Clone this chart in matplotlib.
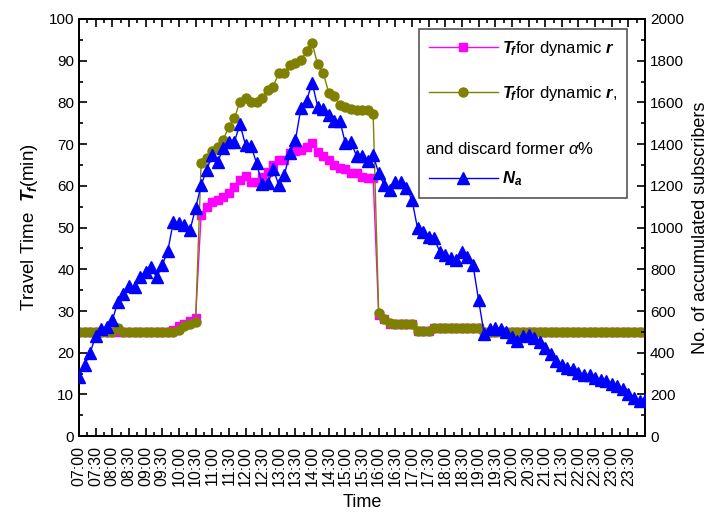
import matplotlib
matplotlib.use("Agg")
import matplotlib.pyplot as plt
from matplotlib.lines import Line2D
from matplotlib.ticker import MultipleLocator
import numpy as np

plt.rcParams['font.family'] = ['Liberation Sans', 'DejaVu Sans']
plt.rcParams['mathtext.fontset'] = 'custom'
plt.rcParams['mathtext.it'] = 'Liberation Sans:italic'
plt.rcParams['mathtext.bf'] = 'Liberation Sans:bold'
plt.rcParams['mathtext.bfit'] = 'Liberation Sans:bold:italic'
plt.rcParams['mathtext.rm'] = 'Liberation Sans'

# time index: 10-minute steps from 07:00 to 24:00
time_labels = ["07:00", "07:30", "08:00", "08:30", "09:00", "09:30", "10:00", "10:30",
               "11:00", "11:30", "12:00", "12:30", "13:00", "13:30", "14:00", "14:30",
               "15:00", "15:30", "16:00", "16:30", "17:00", "17:30", "18:00", "18:30",
               "19:00", "19:30", "20:00", "20:30", "21:00", "21:30", "22:00", "22:30",
               "23:00", "23:30"]

tf_dynamic_r = [25, 25, 25, 25, 25, 25, 25, 25, 25, 25,
                25, 25, 25, 25, 25, 25, 25, 25.5, 26.5, 27.0,
                27.5, 28.3, 53.0, 55.0, 56.2, 56.6, 57.4, 58.4, 59.8, 61.4,
                62.4, 61.0, 61.0, 62.2, 63.4, 65.0, 66.2, 66.3, 67.8, 68.4,
                68.6, 69.4, 70.2, 68.2, 67.1, 66.2, 65.0, 64.2, 64.0, 63.1,
                63.0, 62.2, 62.0, 62.0, 29.0, 28.0, 27.0, 27, 27, 27,
                27, 25.2, 25.2, 25.2, 26, 26, 26, 26, 26, 26,
                26, 26, 26, 25, 25, 25, 25, 25, 25, 25,
                25, 25, 25, 25, 25, 25, 25, 25, 25, 25,
                25, 25, 25, 25, 25, 25, 25, 25, 25, 25,
                25, 25, 25]

tf_dynamic_r_discard = [25, 25, 25, 25, 25, 25, 25, 26, 25, 25,
                        25, 25, 25, 25, 25, 25, 25, 25, 25.5, 26.3,
                        27.0, 27.3, 65.4, 66.6, 68.4, 69.4, 71.1, 74.2, 76.2, 80.2,
                        81.0, 80.2, 80.2, 81.0, 83.0, 83.8, 87.1, 87.1, 89.0, 89.4,
                        90.2, 92.2, 94.2, 89.1, 87.1, 82.3, 81.5, 79.4, 78.8, 78.4,
                        78.2, 78.2, 78.2, 77.2, 29.5, 28.2, 27.2, 27, 27, 27,
                        27, 25.2, 25.2, 25.2, 26, 26, 26, 26, 26, 26,
                        26, 26, 26, 25, 25, 25, 25, 25, 25, 25,
                        25, 25, 25, 25, 25, 25, 25, 25, 25, 25,
                        25, 25, 25, 25, 25, 25, 25, 25, 25, 25,
                        25, 25, 25]

n_subscribers = [284, 340, 400, 480, 516, 524, 556, 644, 684, 720,
                 713, 764, 788, 809, 761, 820, 889, 1028, 1023, 1012,
                 988, 1092, 1204, 1276, 1348, 1316, 1380, 1412, 1412, 1495,
                 1396, 1391, 1308, 1207, 1212, 1279, 1204, 1252, 1359, 1420,
                 1575, 1607, 1695, 1580, 1568, 1540, 1512, 1512, 1404, 1412,
                 1343, 1343, 1320, 1348, 1260, 1204, 1180, 1220, 1220, 1190,
                 1132, 996, 980, 956, 948, 884, 868, 852, 844, 884,
                 860, 820, 652, 492, 512, 520, 512, 500, 476, 456,
                 480, 484, 472, 452, 424, 396, 360, 340, 328, 324,
                 304, 292, 292, 280, 268, 264, 252, 240, 224, 204,
                 184, 168, 172]

x = np.arange(len(n_subscribers))

fig = plt.figure(figsize=(7.12, 5.12), dpi=100)
ax = fig.add_axes([0.111, 0.148, 0.795, 0.815])
ax2 = ax.twinx()

l1, = ax.plot(x, tf_dynamic_r, color='#FF00FF', lw=1, marker='s', ms=6, mec='#FF00FF', zorder=2)
l2, = ax.plot(x, tf_dynamic_r_discard, color='#808000', lw=1, marker='o', ms=6.5, mec='#808000', zorder=3)
l3, = ax2.plot(x, n_subscribers, color='#0000FF', lw=1, marker='^', ms=8, mec='#0000FF', zorder=4)

ax.set_xlim(0, len(x) - 1)
ax.set_ylim(0, 100)
ax2.set_ylim(0, 2000)

ax.set_xticks(np.arange(0, len(time_labels) * 3, 3))
ax.set_xticklabels(time_labels, rotation=90)
ax.xaxis.set_minor_locator(MultipleLocator(1.5))
ax.yaxis.set_major_locator(MultipleLocator(10))
ax.yaxis.set_minor_locator(MultipleLocator(5))
ax2.yaxis.set_major_locator(MultipleLocator(200))
ax2.yaxis.set_minor_locator(MultipleLocator(100))

ax.tick_params(axis='both', which='major', direction='in', length=6, width=1.2, labelsize=11)
ax.tick_params(axis='both', which='minor', direction='in', length=3, width=1.2)
ax.tick_params(axis='x', which='both', top=True, labelsize=11.5, pad=7)
ax.tick_params(axis='y', which='both', right=False)
ax2.tick_params(axis='y', which='major', direction='in', length=6, width=1.2, labelsize=11)
ax2.tick_params(axis='y', which='minor', direction='in', length=3, width=1.2)
for a in (ax, ax2):
    for s in a.spines.values():
        s.set_linewidth(1.3)

ax.set_xlabel("Time", fontsize=13)
ax.xaxis.set_label_coords(0.5, -0.138)
ax.xaxis.label.set_va('top')
ax.set_ylabel(r"Travel Time  $\mathbfit{T}_{\!\mathbfit{f}}$(min)", fontsize=13.5, labelpad=6)
ax2.set_ylabel("No. of accumulated subscribers", fontsize=13, labelpad=6)

blank = Line2D([], [], linestyle='none')
leg = ax2.legend([l1, l2, blank, l3],
                 [r"$\mathbfit{T}_{\!\mathbfit{f}}$for dynamic $\mathbfit{r}$",
                  r"$\mathbfit{T}_{\!\mathbfit{f}}$for dynamic $\mathbfit{r}$,",
                  " ",
                  r"$\mathbfit{N}_{\mathbfit{a}}$"],
                 loc='upper left', bbox_to_anchor=(0.601, 0.976), borderaxespad=0,
                 fontsize=12, handlelength=4.1, labelspacing=1.55, borderpad=0.6,
                 handletextpad=0.25, fancybox=False, edgecolor='#555555', framealpha=1)
leg.get_frame().set_linewidth(1.2)
ax2.text(0.611, 0.688, r"and discard former $\alpha$%", transform=ax2.transAxes,
         fontsize=12, va='center', ha='left', zorder=10)

fig.savefig("out.png", dpi=100)
